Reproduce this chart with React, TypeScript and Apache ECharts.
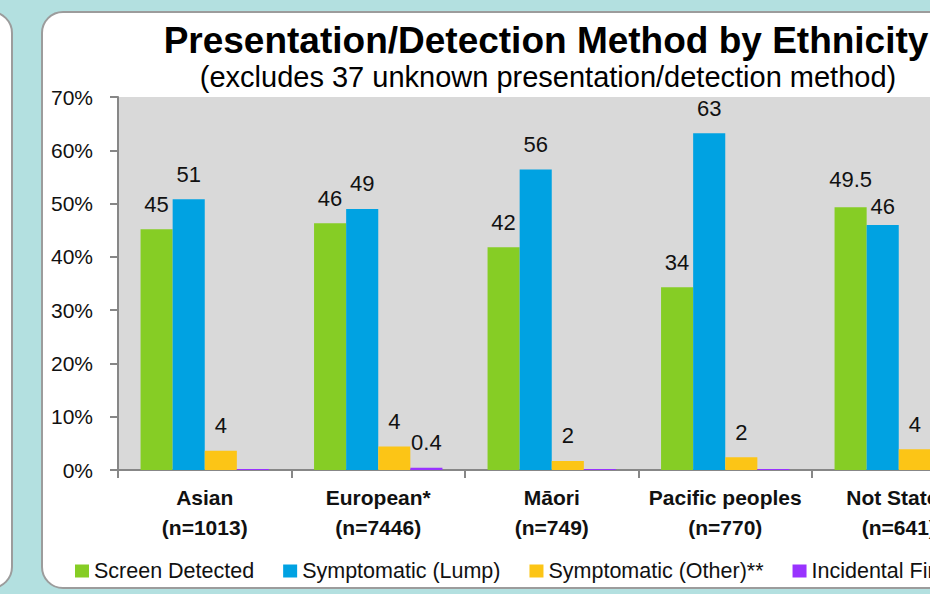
import React, { useEffect, useRef } from "react";
import * as echarts from "echarts";

const categories = ["Asian", "European*", "Māori", "Pacific peoples", "Not Stated"];
const counts = ["(n=1013)", "(n=7446)", "(n=749)", "(n=770)", "(n=641)"];

const seriesNames = ["Screen Detected", "Symptomatic (Lump)", "Symptomatic (Other)**", "Incidental Finding"];
const screenDetected = [45.2, 46.3, 41.8, 34.3, 49.3];
const screenLabels = ["45", "46", "42", "34", "49.5"];
const symptomLump = [50.8, 49.0, 56.4, 63.2, 46.0];
const lumpLabels = ["51", "49", "56", "63", "46"];
const symptomOther = [3.6, 4.4, 1.7, 2.4, 3.9];
const otherLabels = ["4", "4", "2", "2", "4"];
const incidental = [0.2, 0.4, 0.2, 0.2, 0.2];
const incidentalLabels = ["", "0.4", "", "", ""];

const yTicks = [0, 10, 20, 30, 40, 50, 60, 70];

const colors = ["#86cd25", "#00a2e2", "#fcc516", "#9933ff"];
const FONT = "'Liberation Sans', Arial, sans-serif";

export default function App() {
  const ref = useRef<HTMLDivElement>(null);
  useEffect(() => {
    if (!ref.current) return;
    const chart = echarts.init(ref.current, undefined, { renderer: "svg" });
    const mk = (
      name: string,
      data: number[],
      labels: string[],
      color: string,
      distances: Record<number, number> = {}
    ) => ({
      name,
      type: "bar",
      data: data.map((v, i) =>
        distances[i] !== undefined ? { value: v, label: { distance: distances[i] } } : v
      ),
      barGap: "0%",
      barCategoryGap: "26%",
      itemStyle: { color },
      label: {
        show: true,
        position: "top",
        distance: 14,
        formatter: (p: any) => labels[p.dataIndex],
        fontFamily: FONT,
        fontSize: 22,
        color: "#111",
      },
    });
    chart.setOption({
      animation: false,
      backgroundColor: "transparent",
      graphic: [
        {
          type: "text",
          x: 546,
          y: 40,
          style: {
            text: "Presentation/Detection Method by Ethnicity",
            fontFamily: FONT,
            fontWeight: "bold",
            fontSize: 37,
            fill: "#000",
            align: "center",
            verticalAlign: "middle",
          },
        },
        {
          type: "text",
          x: 548,
          y: 77,
          style: {
            text: "(excludes 37 unknown presentation/detection method)",
            fontFamily: FONT,
            fontSize: 29,
            fill: "#000",
            align: "center",
            verticalAlign: "middle",
          },
        },
      ],
      legend: {
        left: 70,
        top: 555,
        itemWidth: 14,
        itemHeight: 13,
        itemGap: 29,
        icon: "rect",
        data: seriesNames,
        textStyle: { fontFamily: FONT, fontSize: 21.5, color: "#111" },
      },
      grid: {
        left: 118,
        top: 97,
        width: 867.5,
        height: 373,
        show: true,
        backgroundColor: "#d9d9d9",
        borderWidth: 0,
      },
      xAxis: {
        type: "category",
        data: categories.map((c, i) => c + "\n" + counts[i]),
        boundaryGap: true,
        axisLine: { show: true, lineStyle: { color: "#878787", width: 2 } },
        axisTick: { show: true, length: 8, lineStyle: { color: "#878787", width: 2 } },
        axisLabel: {
          margin: 12,
          fontFamily: FONT,
          fontWeight: "bold",
          fontSize: 21,
          lineHeight: 30,
          color: "#111",
          interval: 0,
        },
      },
      yAxis: {
        type: "value",
        min: 0,
        max: yTicks[yTicks.length - 1],
        interval: 10,
        splitLine: { show: false },
        axisLine: { show: true, lineStyle: { color: "#878787", width: 2 } },
        axisTick: { show: true, length: 8, lineStyle: { color: "#878787", width: 2 } },
        axisLabel: {
          margin: 25,
          fontFamily: FONT,
          fontSize: 21,
          color: "#111",
          formatter: (v: number) => v + "%",
        },
      },
      series: [
        mk(seriesNames[0], screenDetected, screenLabels, colors[0], { 4: 17 }),
        mk(seriesNames[1], symptomLump, lumpLabels, colors[1], { 4: 7 }),
        mk(seriesNames[2], symptomOther, otherLabels, colors[2]),
        mk(seriesNames[3], incidental, incidentalLabels, colors[3]),
      ],
    });
    return () => chart.dispose();
  }, []);

  return (
    <div
      style={{
        position: "fixed",
        left: 0,
        top: 0,
        width: 930,
        height: 594,
        overflow: "hidden",
        background: "#b3e0e0",
      }}
    >
      <div
        style={{
          position: "absolute",
          left: -40,
          top: 11,
          width: 49,
          height: 574,
          background: "#fff",
          border: "2px solid #9c9c9c",
          borderRadius: 22,
        }}
      />
      <div
        style={{
          position: "absolute",
          left: 41,
          top: 11,
          width: 1100,
          height: 574,
          background: "#fff",
          border: "2px solid #9c9c9c",
          borderRadius: 22,
        }}
      />
      <div ref={ref} style={{ position: "absolute", left: 0, top: 0, width: 1150, height: 594 }} />
    </div>
  );
}
